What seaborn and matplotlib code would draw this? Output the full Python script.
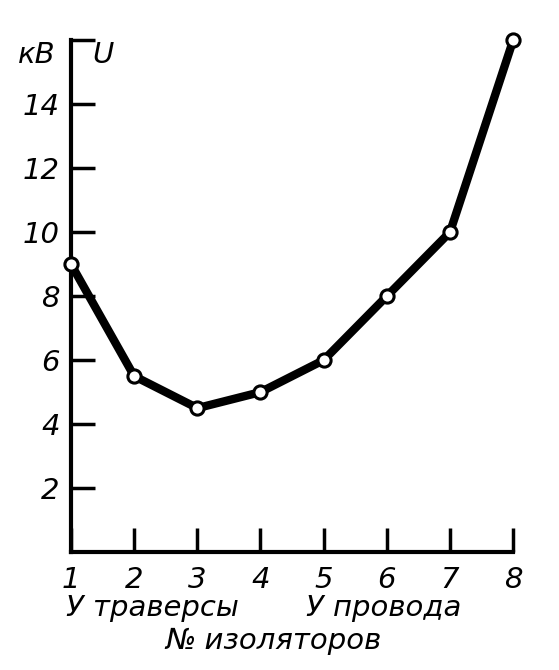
import matplotlib
matplotlib.use('Agg')
import matplotlib.pyplot as plt
import seaborn as sns
import pandas as pd

sns.set_style('ticks')
plt.rcParams['font.family'] = ['DejaVu Sans']
plt.rcParams['text.color'] = 'black'
plt.rcParams['axes.edgecolor'] = 'black'
plt.rcParams['xtick.color'] = 'black'
plt.rcParams['ytick.color'] = 'black'

# insulator number (from the cross-arm to the wire) and voltage, kV
insulators = [1, 2, 3, 4, 5, 6, 7, 8]
voltage_kv = [9, 5.5, 4.5, 5, 6, 8, 10, 16]
y_ticks = [2, 4, 6, 8, 10, 12, 14, 16]
y_ticklabels = ['2', '4', '6', '8', '10', '12', '14', '']

df = pd.DataFrame({'n': insulators, 'u': voltage_kv})

fig = plt.figure(figsize=(5.59, 6.70), dpi=100)
ax = fig.add_axes([0.127, 0.176, 0.791, 0.764])

sns.lineplot(data=df, x='n', y='u', ax=ax, color='k', lw=6,
        marker='o', markersize=9.5, markerfacecolor='white',
        markeredgecolor='k', markeredgewidth=2.2, clip_on=False, zorder=3)

ax.set_xlim(1, 8)
ax.set_ylim(0, 16)
for s in ['top', 'right']:
    ax.spines[s].set_visible(False)
for s in ['left', 'bottom']:
    ax.spines[s].set_linewidth(3)

ax.set_xticks(insulators)
ax.set_xticklabels([str(i) for i in insulators], fontsize=21, style='italic')
ax.set_yticks(y_ticks)
ax.set_yticklabels(y_ticklabels, fontsize=21, style='italic')
ax.tick_params(direction='in', length=17, width=2.5, labelcolor='black')
ax.tick_params(axis='y', pad=8)
ax.tick_params(axis='x', pad=10)
ax.set_xlabel('')
ax.set_ylabel('')

fig.text(0.065, 0.918, 'кВ', fontsize=21, style='italic', ha='center', va='center')
fig.text(0.185, 0.918, 'U', fontsize=21, style='italic', ha='center', va='center')
fig.text(0.118, 0.093, 'У траверсы', fontsize=21, style='italic', ha='left', va='center')
fig.text(0.548, 0.093, 'У провода', fontsize=21, style='italic', ha='left', va='center')
fig.text(0.49, 0.044, '№ изоляторов', fontsize=21, style='italic', ha='center', va='center')

fig.savefig('out.png', dpi=100)
